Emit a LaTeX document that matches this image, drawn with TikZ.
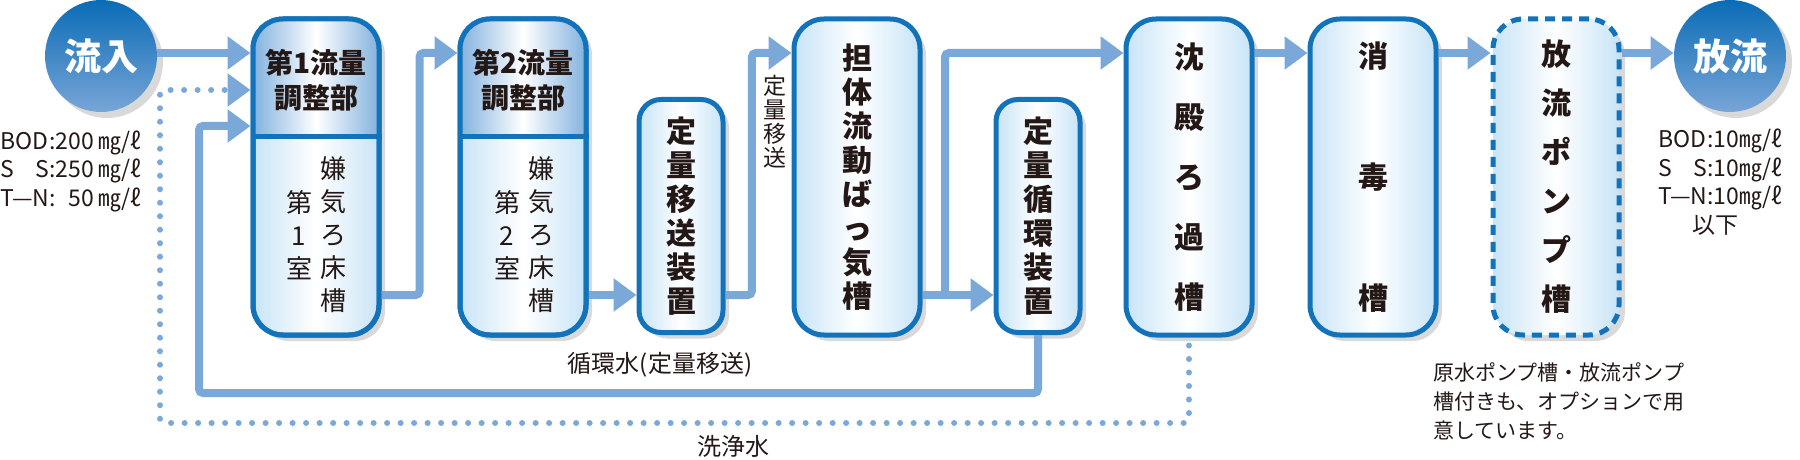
\documentclass[tikz,border=0pt]{standalone}
\usepackage{fontspec}
\setmainfont{Noto Sans CJK JP}
\usetikzlibrary{arrows.meta,shadows,calc}

\definecolor{tankblue}{RGB}{18,115,187}
\definecolor{pipeblue}{RGB}{122,168,216}
\definecolor{paleblue}{RGB}{200,228,247}
\definecolor{midblue}{RGB}{125,174,221}
\definecolor{balltop}{RGB}{10,108,182}
\definecolor{ballbot}{RGB}{120,165,215}
\definecolor{ink}{RGB}{35,24,21}

\begin{document}
\begin{tikzpicture}[x=0.5pt,y=-0.5pt,
  tank/.style={draw=tankblue, line width=2.5pt, rounded corners=15pt,
    left color=paleblue, right color=paleblue, middle color=white,
    drop shadow={shadow xshift=3pt, shadow yshift=-3pt, opacity=0.3, fill=black!50},
    minimum width=63pt, minimum height=158pt, inner sep=0pt, align=center,
    text=ink, font=\bfseries\fontsize{15}{17}\selectfont},
  smalltank/.style={tank, rounded corners=11pt, minimum width=42pt, minimum height=116.5pt},
  pumptank/.style={tank, dash pattern=on 5pt off 3.5pt},
  ball/.style={circle, minimum size=56pt, inner sep=0pt, top color=balltop, bottom color=ballbot,
    drop shadow={shadow xshift=3pt, shadow yshift=-3pt, opacity=0.3, fill=black!50},
    text=white, font=\bfseries\fontsize{18.5}{20}\selectfont},
  tanktop/.style={align=center, text=ink, font=\bfseries\fontsize{14}{17.5}\selectfont},
  tanklow/.style={align=center, text=ink, font=\fontsize{13}{16.5}\selectfont},
  pipe/.style={draw=pipeblue, line width=4pt, rounded corners=2pt, -{Triangle[length=11.5pt,width=16pt]}},
  wash/.style={pipe, line width=3pt, line cap=round, dash pattern=on 0pt off 6.75pt},
  tag/.style={align=center, text=ink, font=\fontsize{11.5}{12}\selectfont},
  note/.style={text=ink, font=\fontsize{12}{14}\selectfont},
  quality/.style={text=ink, inner sep=0pt, font=\fontsize{11.5}{14.25}\selectfont},
  optnote/.style={text=ink, inner sep=0pt, align=left, font=\fontsize{10.5}{14.5}\selectfont}]
\useasboundingbox (0,0) rectangle (1800,460);

\node[ball] (inflow) at (101,56) {流入};
\node[ball] (outflow) at (1730,56) {放流};

\node[tank] (tank1) at (316,177) {};
\begin{scope}
  \clip[rounded corners=15pt] ([shift={(1.25pt,-1.25pt)}]tank1.north west) rectangle ([shift={(-1.25pt,1.25pt)}]tank1.south east);
  \fill[left color=midblue, right color=midblue, middle color=white] (tank1.north west) rectangle (tank1.east |- 0,137);
\end{scope}
\draw[tankblue, line width=2.5pt, rounded corners=15pt] ([shift={(1.25pt,-1.25pt)}]tank1.north west) rectangle ([shift={(-1.25pt,1.25pt)}]tank1.south east);
\draw[tankblue, line width=2.5pt] (tank1.west |- 0,137) -- (tank1.east |- 0,137);
\node[tanktop] (tank1head) at (316,80) {第1流量\\調整部};
\node[tanklow] (tank1name) at (333,235) {嫌\\気\\ろ\\床\\槽};
\node[tanklow] (tank1room) at (299,235) {第\\1\\室};

\node[tank] (tank2) at (523,177) {};
\begin{scope}
  \clip[rounded corners=15pt] ([shift={(1.25pt,-1.25pt)}]tank2.north west) rectangle ([shift={(-1.25pt,1.25pt)}]tank2.south east);
  \fill[left color=midblue, right color=midblue, middle color=white] (tank2.north west) rectangle (tank2.east |- 0,137);
\end{scope}
\draw[tankblue, line width=2.5pt, rounded corners=15pt] ([shift={(1.25pt,-1.25pt)}]tank2.north west) rectangle ([shift={(-1.25pt,1.25pt)}]tank2.south east);
\draw[tankblue, line width=2.5pt] (tank2.west |- 0,137) -- (tank2.east |- 0,137);
\node[tanktop] (tank2head) at (523,80) {第2流量\\調整部};
\node[tanklow] (tank2name) at (541,235) {嫌\\気\\ろ\\床\\槽};
\node[tanklow] (tank2room) at (507,235) {第\\2\\室};

\node[smalltank] (transfer) at (681,216) {定\\量\\移\\送\\装\\置};
\node[tank] (aeration) at (857,177) {担\\体\\流\\動\\ば\\っ\\気\\槽};
\node[smalltank] (recirc) at (1038,216) {定\\量\\循\\環\\装\\置};
\node[tank, font=\bfseries\fontsize{15}{30}\selectfont] (settle) at (1189,177) {沈\\殿\\ろ\\過\\槽};
\node[tank, font=\bfseries\fontsize{15}{60.5}\selectfont] (disinfect) at (1373,177) {消\\毒\\槽};
\node[pumptank, font=\bfseries\fontsize{15}{24.5}\selectfont] (pump) at (1556,177) {放\\流\\ポ\\ン\\プ\\槽};

\coordinate (top) at (0,53);
\coordinate (low) at (0,295);
\coordinate (j12) at ($(tank1.east)!.5!(tank2.west)$);
\coordinate (j23) at ($(transfer.east)!.4!(aeration.west)$);
\coordinate (j34) at (945,177);
\coordinate (loopcorner) at (199,393);
\coordinate (washcorner) at (160,423);

\draw[pipe] (inflow.east |- top) -- (tank1.west |- top);
\draw[pipe] (tank1.east |- low) -| (j12 |- top) -- (tank2.west |- top);
\draw[pipe] (tank2.east |- low) -- (transfer.west |- low);
\draw[pipe] (transfer.east |- low) -| (j23 |- top) -- (aeration.west |- top);
\draw[pipe] (aeration.east |- low) -- (recirc.west |- low);
\draw[pipe] (j34 |- low) -- (j34 |- top) -- (settle.west |- top);
\draw[pipe] (settle.east |- top) -- (disinfect.west |- top);
\draw[pipe] (disinfect.east |- top) -- (pump.west |- top);
\draw[pipe] (pump.east |- top) -- (outflow.west |- top);
\draw[pipe] (recirc.south) |- (loopcorner) |- (tank1.west |- 0,126);
\draw[wash] ([yshift=-4pt]settle.south) |- (washcorner) |- (tank1.west |- 0,90);

\node[tag] (movetag) at (775,122) {定\\量\\移\\送};
\node[note] (loopnote) at (660,365) {循環水(定量移送)};
\node[note] (washnote) at (733,446) {洗浄水};

\node[quality, anchor=west] (inq) at (0,172) {\begin{tabular}{@{}l@{:}r@{\,}l@{}}BOD&200&㎎/ℓ\\S\hfill S&250&㎎/ℓ\\T—N&50&㎎/ℓ\end{tabular}};
\node[quality, anchor=west] (outq) at (1658,185) {\begin{tabular}{@{}l@{:}l@{}}BOD&10㎎/ℓ\\S\hfill S&10㎎/ℓ\\T—N&10㎎/ℓ\\\multicolumn{2}{@{}l@{}}{\hspace{17pt}以下}\end{tabular}};
\node[optnote, anchor=west] (optnote) at (1433,401) {原水ポンプ槽・放流ポンプ\\槽付きも、オプションで用\\意しています。};
\end{tikzpicture}
\end{document}
